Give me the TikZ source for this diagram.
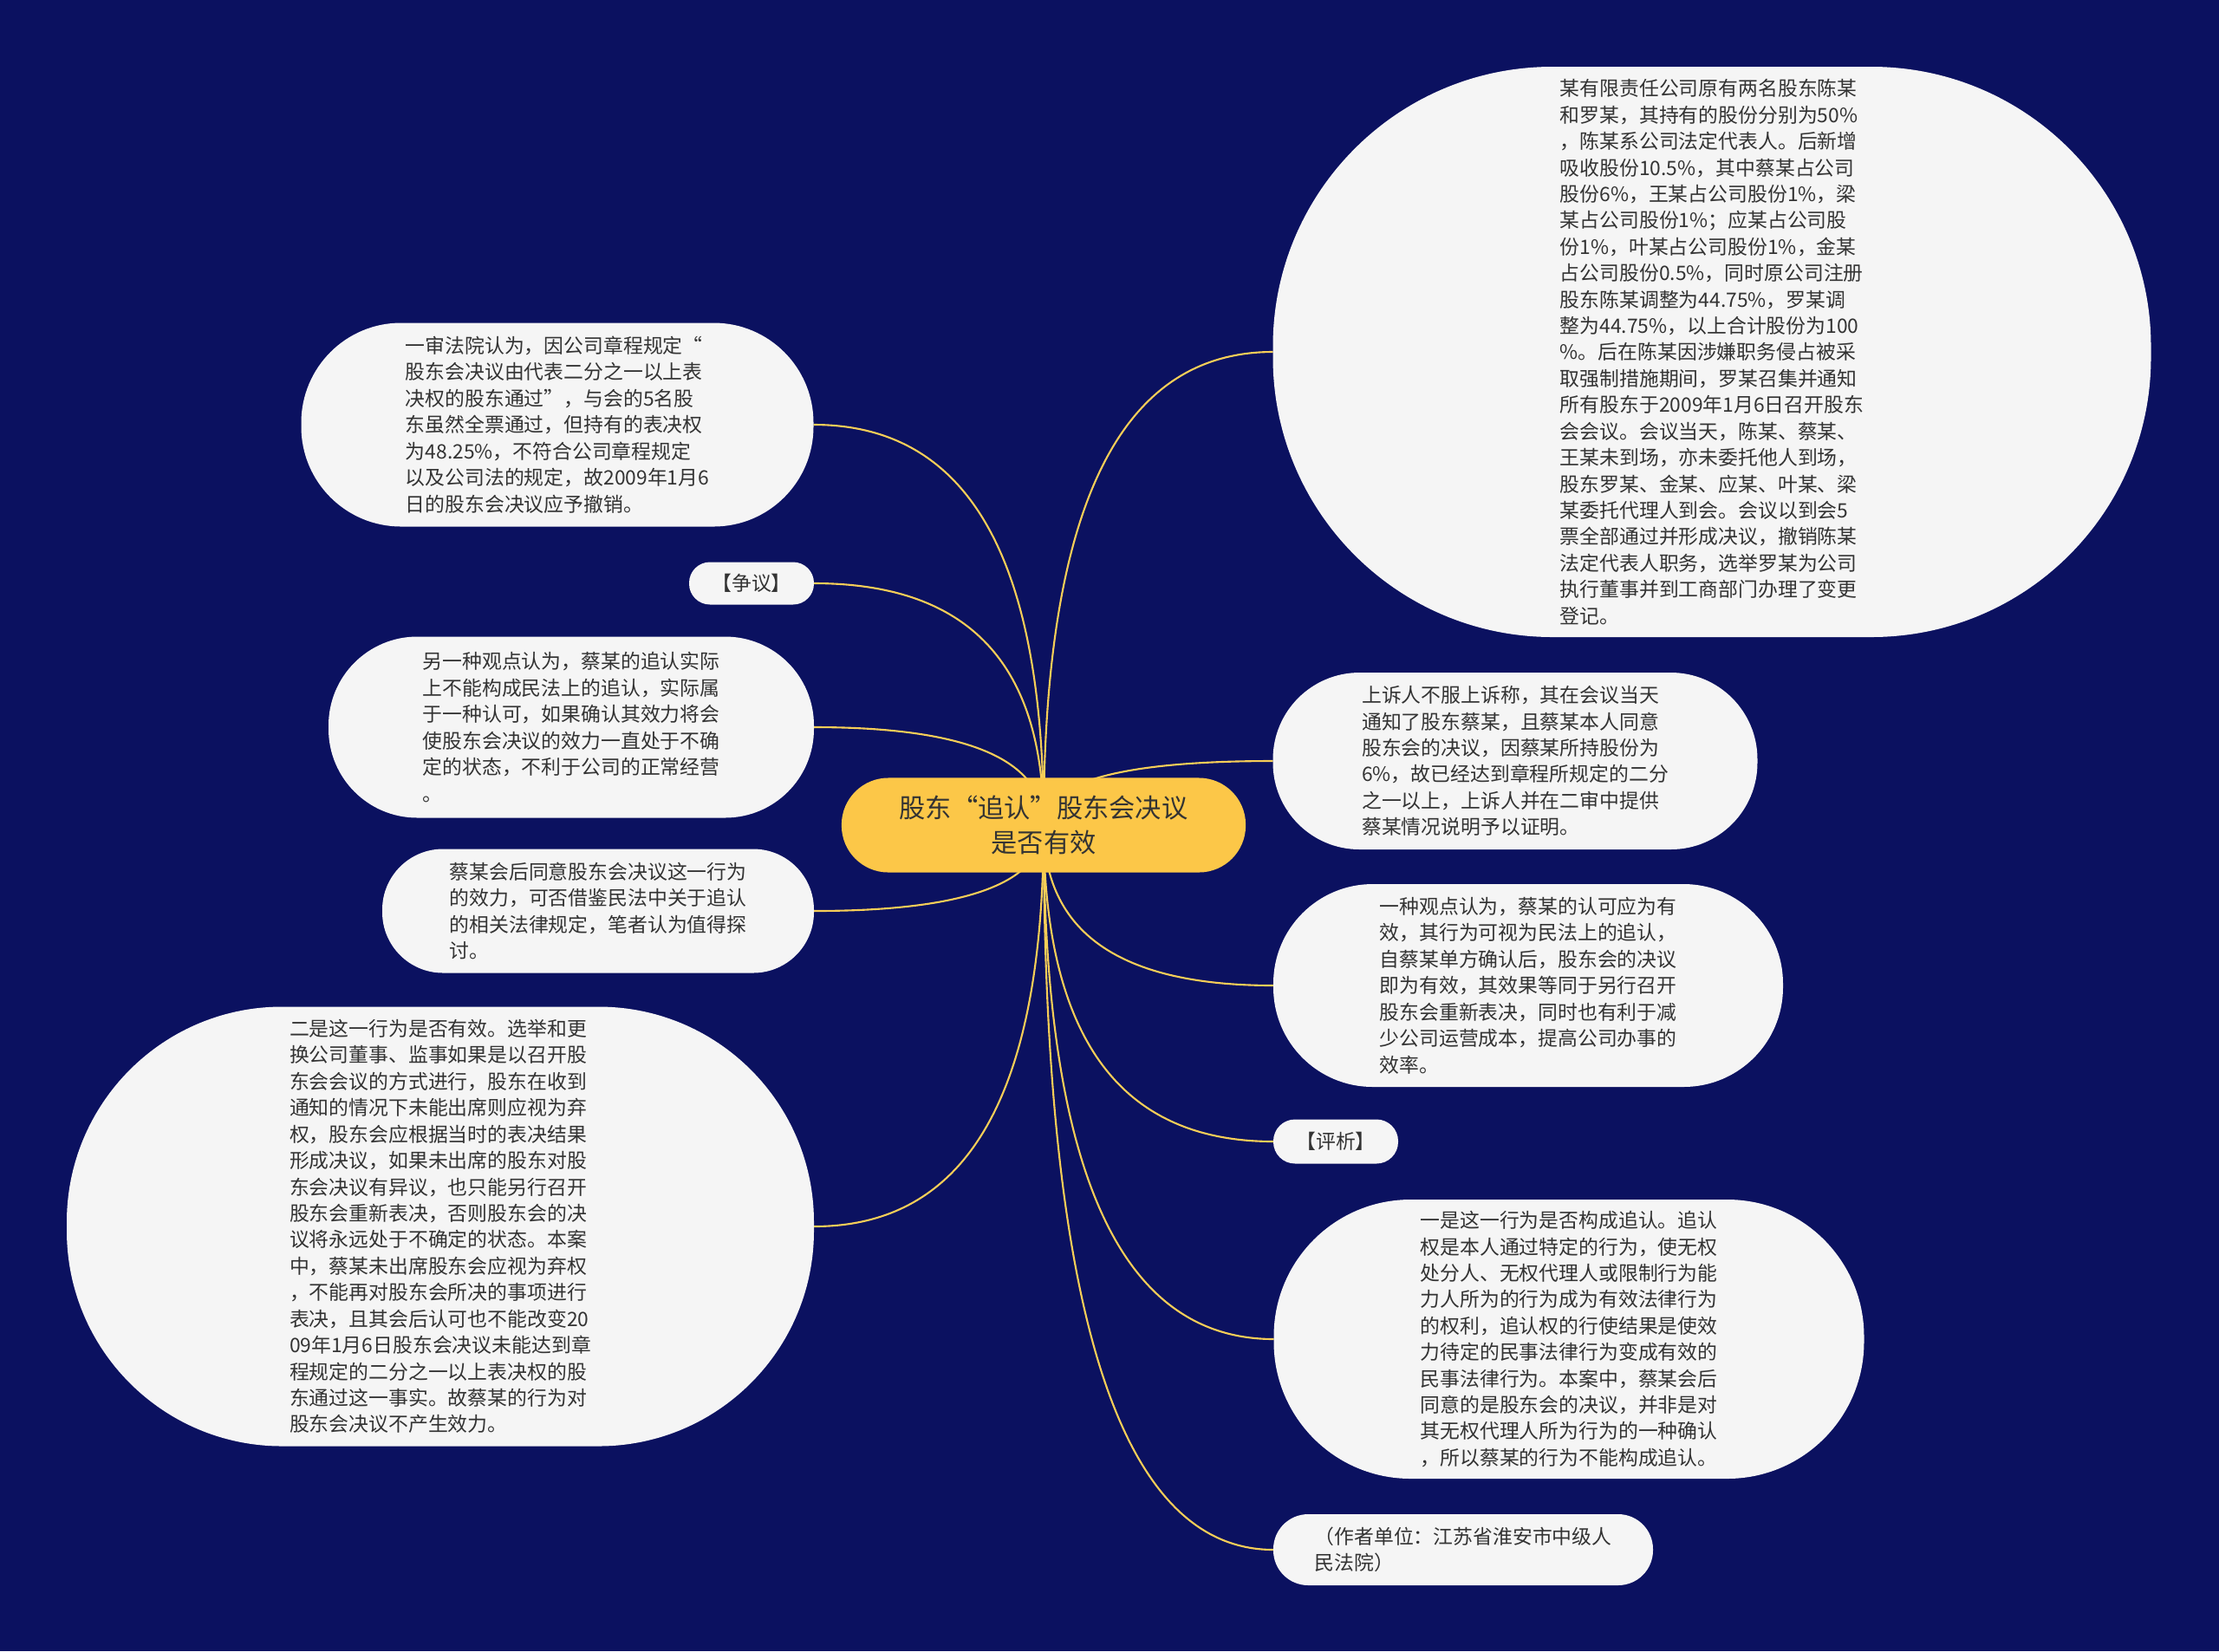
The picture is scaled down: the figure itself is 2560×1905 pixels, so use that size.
\documentclass[tikz,border=0pt]{standalone}
\usepackage{fontspec}
\newfontfamily\cjk{Noto Sans CJK SC}
\usetikzlibrary{calc}
\definecolor{stnavy}{RGB}{11,17,96}
\definecolor{stgold}{RGB}{252,199,72}
\definecolor{stlink}{RGB}{246,206,88}
\definecolor{stleaf}{RGB}{245,245,245}
\definecolor{sttext}{RGB}{51,51,51}
\pgfdeclarelayer{back}
\pgfdeclarelayer{wires}
\pgfsetlayers{back,wires,main}

\begin{document}
\begin{tikzpicture}[x=0.01cm,y=-0.01cm,
  leaf/.style 2 args={fill=stleaf, text=sttext, inner sep=0pt, outer sep=0pt,
    minimum width=#1*0.01cm, minimum height=#2*0.01cm,
    rounded corners=#2*0.0049cm, align=left,
    font=\cjk\fontsize{6.5}{8.65}\selectfont},
  link/.style={stlink, line width=0.6pt}]
  \begin{pgfonlayer}{back}
    \fill[stnavy] (0,0) rectangle (2560,1905);
  \end{pgfonlayer}
  \useasboundingbox (0,0) rectangle (2560,1905);

  % centre
  \node[fill=stgold, text=sttext, inner sep=0pt, outer sep=0pt,
    minimum width=4.66cm, minimum height=1.09cm, rounded corners=0.54cm,
    align=center, font=\cjk\fontsize{8.6}{11.6}\selectfont]
    (root) at (1204,952) {股东“追认”股东会决议\\是否有效};

  % right side
  \node[leaf={1013}{658}] (facts) at (1975,406) {某有限责任公司原有两名股东陈某\\和罗某，其持有的股份分别为50\%\\，陈某系公司法定代表人。后新增\\吸收股份10.5\%，其中蔡某占公司\\股份6\%，王某占公司股份1\%，梁\\某占公司股份1\%；应某占公司股\\份1\%，叶某占公司股份1\%，金某\\占公司股份0.5\%，同时原公司注册\\股东陈某调整为44.75\%，罗某调\\整为44.75\%，以上合计股份为100\\\%。后在陈某因涉嫌职务侵占被采\\取强制措施期间，罗某召集并通知\\所有股东于2009年1月6日召开股东\\会会议。会议当天，陈某、蔡某、\\王某未到场，亦未委托他人到场，\\股东罗某、金某、应某、叶某、梁\\某委托代理人到会。会议以到会5\\票全部通过并形成决议，撤销陈某\\法定代表人职务，选举罗某为公司\\执行董事并到工商部门办理了变更\\登记。};
  \node[leaf={559}{204}] (appeal) at (1748,878) {上诉人不服上诉称，其在会议当天\\通知了股东蔡某，且蔡某本人同意\\股东会的决议，因蔡某所持股份为\\6\%，故已经达到章程所规定的二分\\之一以上，上诉人并在二审中提供\\蔡某情况说明予以证明。};
  \node[leaf={588}{234}] (viewa) at (1763,1137) {一种观点认为，蔡某的认可应为有\\效，其行为可视为民法上的追认，\\自蔡某单方确认后，股东会的决议\\即为有效，其效果等同于另行召开\\股东会重新表决，同时也有利于减\\少公司运营成本，提高公司办事的\\效率。};
  \node[leaf={144}{51}] (review) at (1541,1317) {【评析】};
  \node[leaf={681}{322}] (first) at (1810,1545) {一是这一行为是否构成追认。追认\\权是本人通过特定的行为，使无权\\处分人、无权代理人或限制行为能\\力人所为的行为成为有效法律行为\\的权利，追认权的行使结果是使效\\力待定的民事法律行为变成有效的\\民事法律行为。本案中，蔡某会后\\同意的是股东会的决议，并非是对\\其无权代理人所为行为的一种确认\\，所以蔡某的行为不能构成追认。};
  \node[leaf={438}{82}] (author) at (1688,1788) {（作者单位：江苏省淮安市中级人\\民法院）};

  % left side
  \node[leaf={591}{235}] (court) at (643,490) {一审法院认为，因公司章程规定“\\股东会决议由代表二分之一以上表\\决权的股东通过”，与会的5名股\\东虽然全票通过，但持有的表决权\\为48.25\%，不符合公司章程规定\\以及公司法的规定，故2009年1月6\\日的股东会决议应予撤销。};
  \node[leaf={144}{49}] (dispute) at (867,673) {【争议】};
  \node[leaf={560}{209}] (viewb) at (659,839) {另一种观点认为，蔡某的追认实际\\上不能构成民法上的追认，实际属\\于一种认可，如果确认其效力将会\\使股东会决议的效力一直处于不确\\定的状态，不利于公司的正常经营\\。};
  \node[leaf={498}{143}] (issue) at (690,1051) {蔡某会后同意股东会决议这一行为\\的效力，可否借鉴民法中关于追认\\的相关法律规定，笔者认为值得探\\讨。};
  \node[leaf={862}{507}] (second) at (508,1415) {二是这一行为是否有效。选举和更\\换公司董事、监事如果是以召开股\\东会会议的方式进行，股东在收到\\通知的情况下未能出席则应视为弃\\权，股东会应根据当时的表决结果\\形成决议，如果未出席的股东对股\\东会决议有异议，也只能另行召开\\股东会重新表决，否则股东会的决\\议将永远处于不确定的状态。本案\\中，蔡某未出席股东会应视为弃权\\，不能再对股东会所决的事项进行\\表决，且其会后认可也不能改变20\\09年1月6日股东会决议未能达到章\\程规定的二分之一以上表决权的股\\东通过这一事实。故蔡某的行为对\\股东会决议不产生效力。};

  % connectors
  \begin{pgfonlayer}{wires}
    \foreach \n/\a in {facts/west,appeal/west,viewa/west,review/west,first/west,author/west,
                       court/east,dispute/east,viewb/east,issue/east,second/east} {
      \coordinate (k) at (root.center |- \n.\a);
      \draw[link] (root.center) .. controls ($(root.center)!0.67!(k)$)
        and ($(\n.\a)!0.67!(k)$) .. (\n.\a);
    }
  \end{pgfonlayer}
\end{tikzpicture}
\end{document}
